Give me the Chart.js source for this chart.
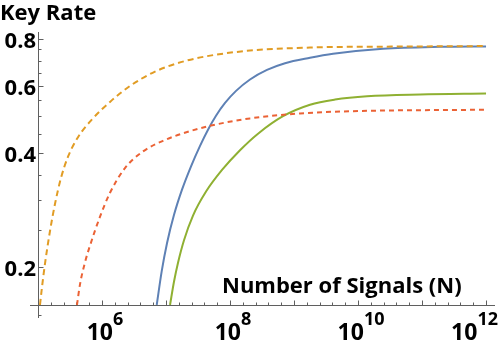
<!DOCTYPE html>
<html>
<head>
<meta charset="utf-8">
<script src="https://cdn.jsdelivr.net/npm/chart.js@4.4.1/dist/chart.umd.min.js"></script>
<style>
  html, body { margin: 0; padding: 0; background: #fff; }
  canvas { display: block; }
</style>
</head>
<body>
<canvas id="rateChart" width="502" height="347"></canvas>
<script>
// Number of signals N (x) and key rate (y)
const nBlue = [7.16e6, 8.57e6, 1.038e7, 1.334e7, 1.778e7, 2.46e7, 3.40e7, 4.53e7, 6.04e7, 8.36e7, 1.242e8, 2.053e8, 3.78e8, 7.23e8, 1.778e9, 4.07e9, 2.46e10, 1.91e11, 1.0e12];
const rateBlue = [0.159, 0.1952, 0.2316, 0.2748, 0.3201, 0.3688, 0.4175, 0.4606, 0.5013, 0.5417, 0.5828, 0.6245, 0.6618, 0.6893, 0.7122, 0.7296, 0.7521, 0.7612, 0.7634];

const nOrange = [1.074e5, 1.155e5, 1.285e5, 1.54e5, 1.845e5, 2.286e5, 2.944e5, 4.217e5, 6.98e5, 1.334e6, 2.738e6, 6.73e6, 1.98e7, 1.114e8, 1.778e9, 4.53e10, 1.0e12];
const rateOrange = [0.159, 0.1773, 0.2040, 0.2491, 0.2939, 0.3436, 0.3909, 0.4401, 0.4902, 0.5450, 0.6004, 0.6551, 0.6985, 0.7363, 0.7580, 0.7626, 0.7649];

const nGreen = [1.155e7, 1.334e7, 1.54e7, 1.91e7, 2.64e7, 4.22e7, 7.50e7, 1.432e8, 2.738e8, 6.73e8, 1.778e9, 4.375e9, 1.384e10, 9.31e10, 1.0e12];
const rateGreen = [0.159, 0.1834, 0.2055, 0.2355, 0.2735, 0.3164, 0.3607, 0.4066, 0.4495, 0.4998, 0.5358, 0.5529, 0.5641, 0.5703, 0.5734];

const nRed = [4.064e5, 4.53e5, 5.42e5, 6.49e5, 9.31e5, 1.334e6, 2.286e6, 4.37e6, 9.64e6, 2.371e7, 5.83e7, 2.053e8, 1.241e9, 1.074e10, 1.0e12];
const rateRed = [0.159, 0.1802, 0.2059, 0.2279, 0.2717, 0.3142, 0.3648, 0.4036, 0.4327, 0.4564, 0.4747, 0.4932, 0.5083, 0.5158, 0.5198];

// Tick labels
const yTickLabels = [0.2, 0.4, 0.6, 0.8];
const yMinorTicks = [0.15, 0.25, 0.3, 0.35, 0.45, 0.5, 0.55, 0.65, 0.7, 0.75];
const xTickExponents = [6, 8, 10, 12];

const axisColor = '#5f5f5f';
const labelFont = 'bold 22px "Open Sans"';

function toPoints(xs, ys) {
    return xs.map((x, i) => ({ x: x, y: ys[i] }));
}

// Mathematica style axes: ticks point inward, labels drawn by hand
const axesPlugin = {
    id: 'mmaAxes',
    beforeDatasetsDraw(chart) {
        const { ctx, chartArea: area, scales: { x, y } } = chart;
        const ax = Math.round(area.left) + 0.5;
        const ay = Math.round(area.bottom) + 0.5;
        ctx.save();
        ctx.strokeStyle = axisColor;
        ctx.lineWidth = 1;
        ctx.beginPath();
        ctx.moveTo(30, ay);
        ctx.lineTo(area.right, ay);
        ctx.moveTo(ax, area.top);
        ctx.lineTo(ax, 318);
        // x ticks, every fifth of a decade
        for (let k = 26; k <= 60; k++) {
            const px = Math.round(x.getPixelForValue(Math.pow(10, k / 5))) + 0.5;
            const len = k % 5 === 0 ? 5 : 3;
            ctx.moveTo(px, ay);
            ctx.lineTo(px, ay - len);
        }
        yTickLabels.forEach(v => {
            const py = Math.round(y.getPixelForValue(v)) + 0.5;
            ctx.moveTo(ax, py);
            ctx.lineTo(ax + 5, py);
        });
        yMinorTicks.forEach(v => {
            const py = Math.round(y.getPixelForValue(v)) + 0.5;
            ctx.moveTo(ax, py);
            ctx.lineTo(ax + 3, py);
        });
        ctx.stroke();
        ctx.restore();
    },
    afterDraw(chart) {
        const { ctx, scales: { x, y } } = chart;
        ctx.save();
        ctx.fillStyle = '#000';
        ctx.font = labelFont;
        ctx.textBaseline = 'alphabetic';

        // title
        ctx.textAlign = 'left';
        ctx.fillText('Key Rate', 0, 20);

        // y labels
        ctx.textAlign = 'right';
        yTickLabels.forEach(v => {
            ctx.fillText(v.toFixed(1), 36, y.getPixelForValue(v) + 9);
        });

        // x axis title
        ctx.textAlign = 'left';
        ctx.fillText('Number of Signals (N)', 222, 293);

        // x labels 10^n
        xTickExponents.forEach(e => {
            const px = x.getPixelForValue(Math.pow(10, e));
            ctx.font = 'bold 23px "Open Sans"';
            const wBase = ctx.measureText('10').width;
            ctx.font = 'bold 18px "Open Sans"';
            const wExp = ctx.measureText(String(e)).width;
            let left = px - (wBase + wExp) / 2 + 3;
            if (left + wBase + wExp > 498) left = 498 - wBase - wExp;
            ctx.textAlign = 'left';
            ctx.font = 'bold 23px "Open Sans"';
            ctx.fillText('10', left, 340);
            ctx.font = 'bold 18px "Open Sans"';
            ctx.fillText(String(e), left + wBase, 325);
        });
        ctx.restore();
    }
};

const ctx = document.getElementById('rateChart').getContext('2d');

new Chart(ctx, {
    type: 'line',
    data: {
        datasets: [
            {
                data: toPoints(nBlue, rateBlue),
                borderColor: '#5e81b5',
                order: 4
            },
            {
                data: toPoints(nOrange, rateOrange),
                borderColor: '#e19c24',
                borderDash: [6, 4],
                order: 3
            },
            {
                data: toPoints(nGreen, rateGreen),
                borderColor: '#8fb032',
                order: 2
            },
            {
                data: toPoints(nRed, rateRed),
                borderColor: '#eb6235',
                borderDash: [5, 4],
                order: 1
            }
        ]
    },
    options: {
        responsive: false,
        animation: false,
        devicePixelRatio: 1,
        layout: { padding: { left: 38, top: 32, right: 7, bottom: 42 } },
        elements: {
            point: { radius: 0 },
            line: { borderWidth: 2, cubicInterpolationMode: 'monotone', fill: false }
        },
        plugins: {
            legend: { display: false },
            tooltip: { enabled: false }
        },
        scales: {
            x: {
                type: 'logarithmic',
                display: false,
                bounds: 'data',
                min: 1e5,
                max: 1.38e12
            },
            y: {
                type: 'logarithmic',
                display: false,
                bounds: 'data',
                min: 0.159,
                max: 0.833
            }
        }
    },
    plugins: [axesPlugin]
});
</script>
</body>
</html>
